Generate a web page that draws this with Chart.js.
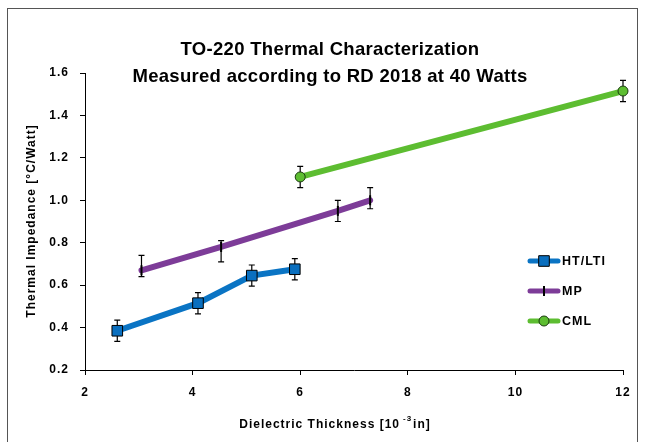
<!DOCTYPE html>
<html><head><meta charset="utf-8">
<script src="https://cdn.jsdelivr.net/npm/chart.js@4.4.0/dist/chart.umd.min.js"></script>
<style>html,body{margin:0;padding:0;background:#fff;}canvas{display:block}</style>
</head><body>
<canvas id="c" width="645" height="442"></canvas>
<script>
// ---- data ----
const titleLines = ['TO-220 Thermal Characterization', 'Measured according to RD 2018 at 40 Watts'];
const yAxisTitle = 'Thermal Impedance [\u00B0C/Watt]';
const xAxisTitleParts = ['Dielectric Thickness [10', '-3', 'in]'];
const seriesNames = ['HT/LTI', 'MP', 'CML'];
const xTickValues = [2, 4, 6, 8, 10, 12];
const yTickValues = [0.2, 0.4, 0.6, 0.8, 1.0, 1.2, 1.4, 1.6];

const htX = [2.6, 4.1, 5.1, 5.9];
const htY = [0.385, 0.515, 0.645, 0.675];
const htErrUp = [0.05, 0.05, 0.05, 0.05];
const htErrDown = [0.05, 0.05, 0.05, 0.05];

const mpX = [3.05, 4.53, 6.7, 7.3];
const mpY = [0.67, 0.78, 0.95, 1.0];
const mpErrUp = [0.07, 0.03, 0.05, 0.06];
const mpErrDown = [0.03, 0.07, 0.05, 0.04];

const cmlX = [6.0, 12.0];
const cmlY = [1.11, 1.515];
const cmlErrUp = [0.05, 0.05];
const cmlErrDown = [0.05, 0.05];

// ---- styles ----
const FONT = "'Liberation Sans', Arial, sans-serif";
const blue = '#0A74C4', purple = '#7D3C98', green = '#5DBD31';
const series = [
  {name: seriesNames[0], x: htX, y: htY, up: htErrUp, down: htErrDown, color: blue, style: 'rect', fill: '#0A6FBF', radius: 7.5, bw: 1, bc: '#000'},
  {name: seriesNames[1], x: mpX, y: mpY, up: mpErrUp, down: mpErrDown, color: purple, style: 'line', fill: '#000', radius: 5, bw: 2, bc: '#000', rot: 90},
  {name: seriesNames[2], x: cmlX, y: cmlY, up: cmlErrUp, down: cmlErrDown, color: green, style: 'circle', fill: '#5DBD31', radius: 5, bw: 1, bc: '#1a3a10'}
];

Chart.defaults.font.family = FONT;
Chart.defaults.font.weight = 'bold';
Chart.defaults.color = '#000';

const SP = '1px';
const spacingPlugin = {
  id: 'spacing',
  beforeUpdate(c) { c.ctx.letterSpacing = SP; },
  beforeLayout(c) { c.ctx.letterSpacing = SP; },
  beforeDraw(c) { c.ctx.letterSpacing = SP; }
};

const errorBarPlugin = {
  id: 'errbars',
  beforeDatasetsDraw(chart) {
    const {ctx} = chart, xs = chart.scales.x, ys = chart.scales.y;
    ctx.save();
    ctx.strokeStyle = '#000';
    ctx.lineWidth = 1.2;
    series.forEach(s => {
      s.x.forEach((xv, i) => {
        const px = xs.getPixelForValue(xv);
        const top = ys.getPixelForValue(s.y[i] + s.up[i]);
        const bot = ys.getPixelForValue(s.y[i] - s.down[i]);
        ctx.beginPath();
        ctx.moveTo(px, top); ctx.lineTo(px, bot);
        ctx.moveTo(px - 3, top); ctx.lineTo(px + 3, top);
        ctx.moveTo(px - 3, bot); ctx.lineTo(px + 3, bot);
        ctx.stroke();
      });
    });
    ctx.restore();
  }
};

const decorPlugin = {
  id: 'decor',
  afterDraw(chart) {
    const {ctx} = chart;
    ctx.save();
    // frame
    ctx.strokeStyle = '#555';
    ctx.lineWidth = 1;
    ctx.strokeRect(7.5, 8.5, 630, 460);
    ctx.fillStyle = '#000';
    // title
    ctx.letterSpacing = '0.3px';
    ctx.font = 'bold 18.5px ' + FONT;
    ctx.textAlign = 'center';
    ctx.textBaseline = 'middle';
    ctx.fillText(titleLines[0], 330, 50);
    ctx.fillText(titleLines[1], 330, 77);
    // y axis title
    ctx.letterSpacing = '1px';
    ctx.font = 'bold 12px ' + FONT;
    ctx.save();
    ctx.translate(32, 221);
    ctx.rotate(-Math.PI / 2);
    ctx.fillText(yAxisTitle, 0, 0);
    ctx.restore();
    // x axis title with superscript
    ctx.textAlign = 'left';
    ctx.font = 'bold 12px ' + FONT;
    const w1 = ctx.measureText(xAxisTitleParts[0]).width;
    ctx.font = 'bold 8px ' + FONT;
    const w2 = ctx.measureText(xAxisTitleParts[1]).width;
    ctx.font = 'bold 12px ' + FONT;
    const w3 = ctx.measureText(xAxisTitleParts[2]).width;
    const total = w1 + 3 + w2 + 1 + w3;
    let sx = 335 - total / 2;
    ctx.fillText(xAxisTitleParts[0], sx, 425);
    sx += w1 + 3;
    ctx.font = 'bold 8px ' + FONT;
    ctx.fillText(xAxisTitleParts[1], sx, 419);
    sx += w2 + 1;
    ctx.font = 'bold 12px ' + FONT;
    ctx.fillText(xAxisTitleParts[2], sx, 425);
    // legend
    const rows = [261, 291, 321];
    series.forEach((s, i) => {
      const y = rows[i];
      ctx.strokeStyle = s.color;
      ctx.lineWidth = 5;
      ctx.lineCap = 'round';
      ctx.beginPath(); ctx.moveTo(530, y); ctx.lineTo(558, y); ctx.stroke();
      ctx.lineCap = 'butt';
      ctx.fillStyle = s.fill;
      ctx.strokeStyle = s.bc;
      ctx.lineWidth = s.bw;
      Chart.helpers.drawPoint(ctx, {pointStyle: s.style, rotation: s.rot || 0, radius: s.radius, borderWidth: s.bw}, 544, y);
      ctx.fillStyle = '#000';
      ctx.font = 'bold 12.5px ' + FONT;
      ctx.textAlign = 'left';
      ctx.textBaseline = 'middle';
      ctx.fillText(s.name, 562, y + 1);
    });
    ctx.restore();
  }
};

const datasets = series.map(s => ({
  label: s.name,
  data: s.x.map((xv, i) => ({x: xv, y: s.y[i]})),
  showLine: true,
  borderColor: s.color,
  borderWidth: 6,
  borderCapStyle: 'round',
  pointStyle: s.style,
  pointRotation: s.rot || 0,
  pointRadius: s.radius,
  pointHoverRadius: s.radius,
  pointBackgroundColor: s.fill,
  pointBorderColor: s.bc,
  pointBorderWidth: s.bw,
  clip: false
}));

new Chart(document.getElementById('c'), {
  type: 'scatter',
  data: {datasets},
  options: {
    responsive: false,
    animation: false,
    events: [],
    layout: {padding: {left: 0, top: 73, right: 22, bottom: 0}},
    plugins: {legend: {display: false}, title: {display: false}, tooltip: {enabled: false}},
    scales: {
      x: {
        type: 'linear', min: xTickValues[0], max: xTickValues[xTickValues.length - 1],
        afterBuildTicks: s => { s.ticks = xTickValues.map(v => ({value: v})); },
        afterFit: s => { s.height = 72; },
        grid: {drawOnChartArea: false, drawTicks: true, tickLength: 5, color: '#000'},
        border: {display: true, color: '#000', width: 1},
        ticks: {font: {size: 12, weight: 'bold'}, color: '#000', padding: 10, maxRotation: 0, callback: v => String(v)}
      },
      y: {
        type: 'linear', min: yTickValues[0], max: yTickValues[yTickValues.length - 1],
        afterBuildTicks: s => { s.ticks = yTickValues.map(v => ({value: v})); },
        afterFit: s => { s.width = 85; },
        grid: {drawOnChartArea: false, drawTicks: true, tickLength: 5, color: '#000'},
        border: {display: true, color: '#000', width: 1},
        ticks: {font: {size: 12, weight: 'bold'}, color: '#000', padding: 11, callback: v => Number(v).toFixed(1)}
      }
    }
  },
  plugins: [spacingPlugin, errorBarPlugin, decorPlugin]
});
</script>
</body></html>
